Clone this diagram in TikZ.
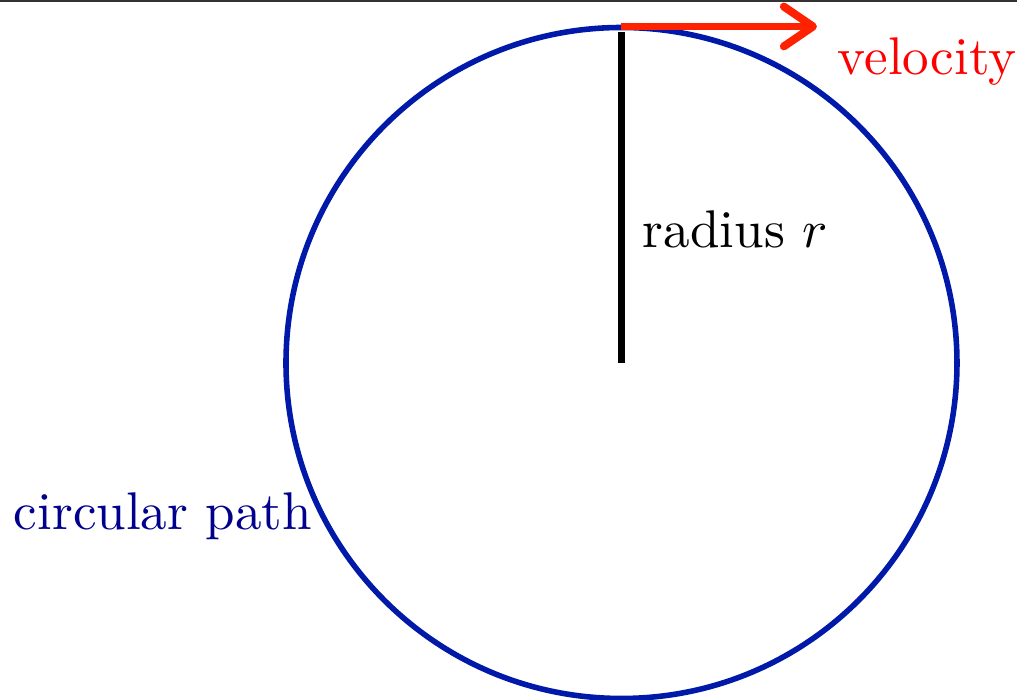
\documentclass[tikz,border=0pt]{standalone}
\usetikzlibrary{arrows.meta}
\definecolor{pathblue}{RGB}{0,25,168}
\definecolor{labelnavy}{RGB}{0,0,140}
\definecolor{arrowred}{RGB}{255,34,0}
\definecolor{textred}{RGB}{255,0,0}
\begin{document}
\begin{tikzpicture}[x=0.1885pt,y=-0.1885pt,
  lbl/.style={anchor=base west,inner sep=0pt,outer sep=0pt}]
\useasboundingbox (0,0) rectangle (1017,700);
\clip (0,0) rectangle (1017,700);
\draw[line width=0.4pt,black!80] (0,0.5) -- (1017,0.5);
\coordinate (c) at (621.5,363);
\draw[pathblue,line width=1.05pt] (c) circle[radius=335.5];
\coordinate (top) at (621.5,26.5);
\coordinate (rtop) at (621.5,32);
\draw[black,line width=1.5pt] (c) -- (rtop);
\coordinate (vtip) at (817,26.5);
\draw[arrowred,line width=1.5pt,-{Straight Barb[round,length=5.5pt,width=7.5pt]}] (top) -- (vtip);
\node[lbl,textred] (vel) at (838,75) {velocity};
\node[lbl] (rad) at (643,248) {radius $r$};
\node[lbl,labelnavy] (circ) at (14,530) {circular path};
\end{tikzpicture}
\end{document}
